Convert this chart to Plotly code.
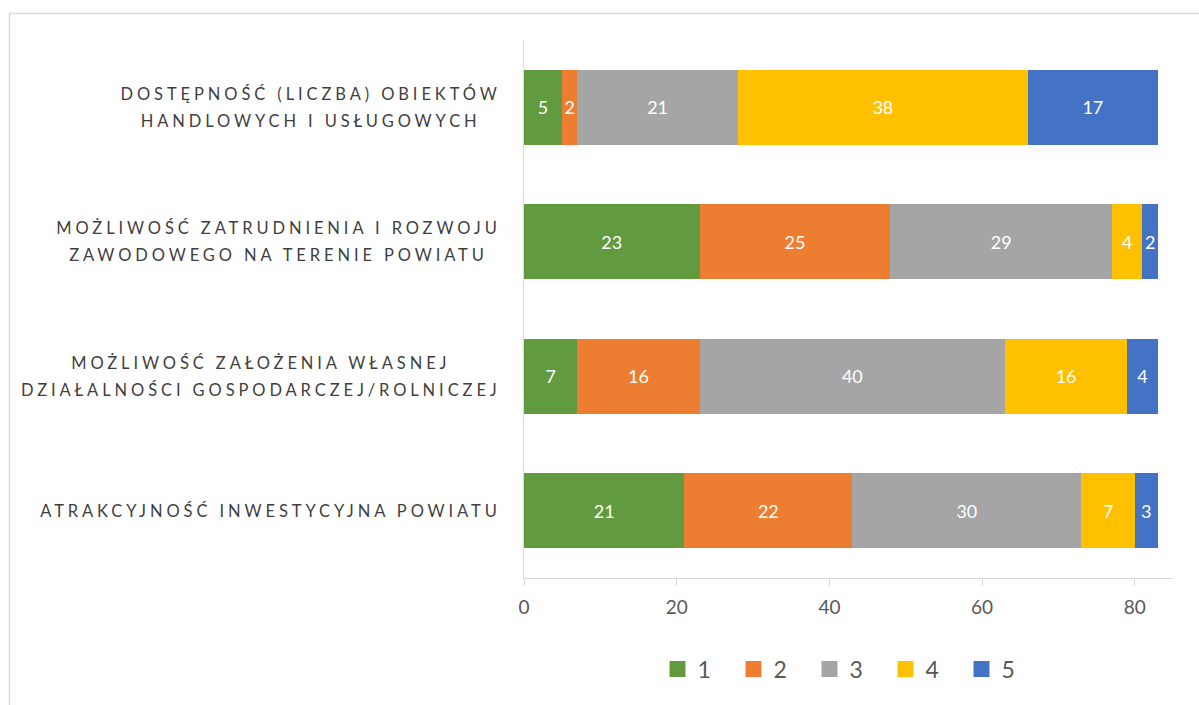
import plotly.graph_objects as go

categories = [
    "DOSTĘPNOŚĆ (LICZBA) OBIEKTÓW<br>HANDLOWYCH I USŁUGOWYCH",
    "MOŻLIWOŚĆ ZATRUDNIENIA I ROZWOJU<br>ZAWODOWEGO NA TERENIE POWIATU",
    "MOŻLIWOŚĆ ZAŁOŻENIA WŁASNEJ<br>DZIAŁALNOŚCI GOSPODARCZEJ/ROLNICZEJ",
    "ATRAKCYJNOŚĆ INWESTYCYJNA POWIATU",
]
series_names = ["1", "2", "3", "4", "5"]
s1 = [5, 23, 7, 21]
s2 = [2, 25, 16, 22]
s3 = [21, 29, 40, 30]
s4 = [38, 4, 16, 7]
s5 = [17, 2, 4, 3]
series_values = [s1, s2, s3, s4, s5]
colors = ["#629A3F", "#ED7D31", "#A5A5A5", "#FFC000", "#4472C4"]
x_ticks = [0, 20, 40, 60, 80]

FONT = "Lato, 'Open Sans', sans-serif"

fig = go.Figure()
for name, vals, col in zip(series_names, series_values, colors):
    fig.add_trace(go.Bar(
        y=categories, x=vals, name=name, orientation="h",
        marker=dict(color=col, line=dict(width=0)),
        text=[str(v) for v in vals], textposition="inside",
        insidetextanchor="middle", constraintext="none",
        textfont=dict(family=FONT, size=18, color="white"),
        hoverinfo="skip",
    ))

W, H = 1199, 705
ML, MR, MT, MB = 524, 26, 40, 127
pw = W - ML - MR
ph = H - MT - MB

def px_x(px):
    return (px - ML) / pw

def px_y(py):
    return (H - MB - py) / ph

fig.update_layout(
    width=W, height=H,
    margin=dict(l=ML, r=MR, t=MT, b=MB, pad=0),
    barmode="stack", bargap=0.442,
    plot_bgcolor="white", paper_bgcolor="white",
    font=dict(family=FONT, color="#595959"),
    showlegend=True,
    legend=dict(orientation="h", x=0.5 - 1 / pw, xanchor="center", y=px_y(669), yanchor="middle",
                font=dict(family=FONT, size=23, color="#595959"),
                entrywidth=31, entrywidthmode="pixels",
                traceorder="normal", itemclick=False),
    xaxis=dict(range=[0, 85], tickvals=x_ticks, ticktext=[str(t) for t in x_ticks],
               showgrid=False, zeroline=False, showline=True, linecolor="#D9D9D9", linewidth=1,
               ticks="outside", tickcolor="#D9D9D9", ticklen=7, tickwidth=1, ticklabelstandoff=5,
               tickfont=dict(family=FONT, size=19, color="#595959"), fixedrange=True),
    yaxis=dict(categoryorder="array", categoryarray=categories, autorange="reversed",
               showgrid=False, zeroline=False, showline=True, linecolor="#D9D9D9", linewidth=1,
               ticks="", automargin=False, ticklabelstandoff=19,
               tickfont=dict(family=FONT, size=16.5, color="#3F3F3F"), fixedrange=True),
    shapes=[dict(type="rect", xref="paper", yref="paper",
                 x0=px_x(9.5), x1=px_x(1215), y0=px_y(720), y1=px_y(13.5),
                 line=dict(color="#D9D9D9", width=1.5), fillcolor="rgba(0,0,0,0)", layer="below")],
)

post = """
document.body.style.margin = '0';
var gd = document.getElementById('{plot_id}');
gd.querySelectorAll('g.ytick text').forEach(function(t){
  t.style.letterSpacing = '3.9px';
  var lines = t.querySelectorAll('tspan.line');
  if (lines.length > 1) {
    var fs = parseFloat(t.style.fontSize) || 16.5;
    lines[1].setAttribute('dy', '27px');
    t.setAttribute('transform', (t.getAttribute('transform') || '') + ' translate(0,' + (-(27 - 1.3 * fs) / 2) + ')');
    var widths = [];
    var maxW = 0;
    lines.forEach(function(l){ var w = l.getComputedTextLength(); widths.push(w); if (w > maxW) maxW = w; });
    lines.forEach(function(l, i){ l.setAttribute('dx', (-(maxW - widths[i]) / 2).toString()); });
  }
});
gd.querySelectorAll('g.legendpoints path').forEach(function(p){
  p.setAttribute('transform', ((p.getAttribute('transform') || '') + ' scale(1.33)').trim());
});
"""

fig.write_html("out.html", post_script=post, config={"displayModeBar": False})
